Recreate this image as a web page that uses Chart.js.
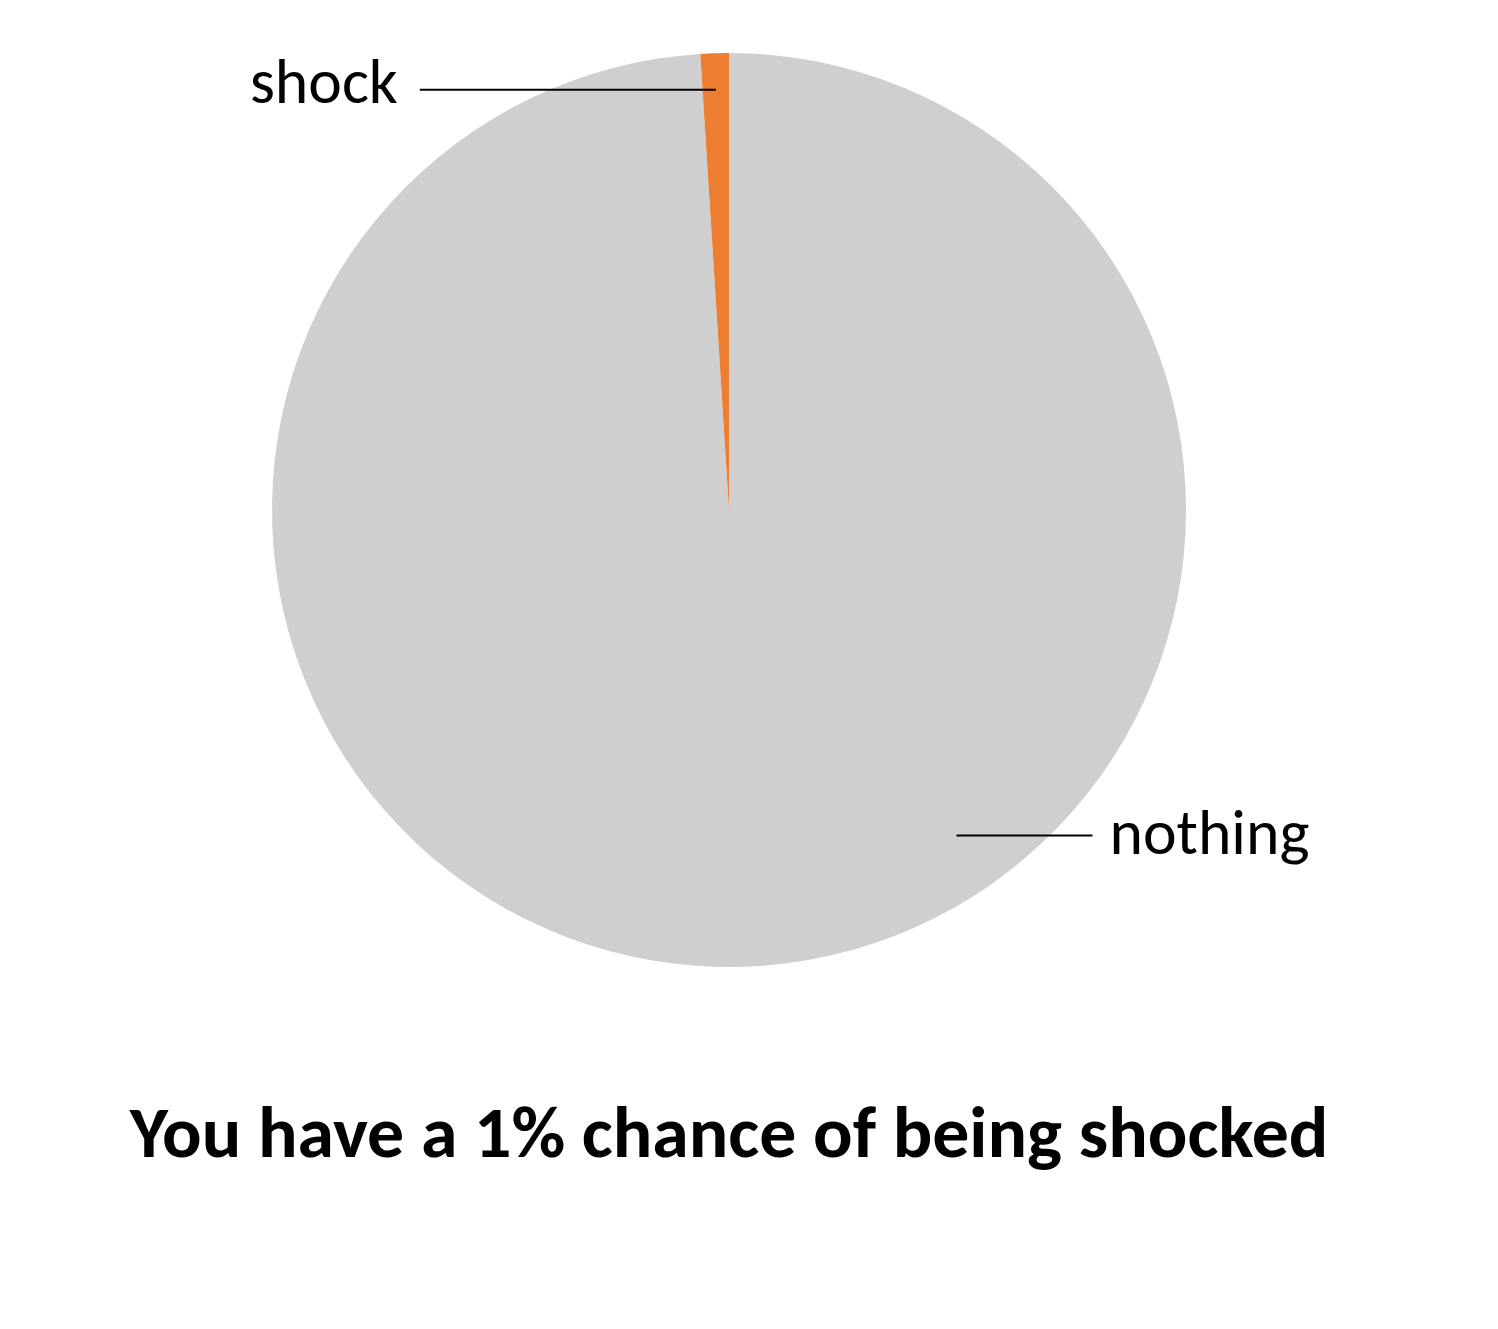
<!DOCTYPE html>
<html><head><meta charset="utf-8">
<script src="https://cdn.jsdelivr.net/npm/chart.js@4"></script>
<style>html,body{margin:0;padding:0;background:#fff}#wrap{width:1498px;height:1329px}</style>
</head><body><div id="wrap"><canvas id="c" width="1498" height="1329"></canvas></div>
<script>
const categories = ['nothing', 'shock'];
const values = [99, 1];
const colors = ['#D0CFD0', '#ED7D31'];
const titleText = 'You have a 1% chance of being shocked';

const FAM = 'Carlito, "Open Sans", Lato, sans-serif';
function fitSize(text, weight, targetW, base) {
  const ctx = document.createElement('canvas').getContext('2d');
  ctx.font = weight + ' ' + base + 'px ' + FAM;
  return base * targetW / ctx.measureText(text).width;
}
const titleSize = fitSize(titleText, 'bold', 1199, 60);
const labelSize = fitSize('nothing', 'normal', 200, 55);

// label placement: radius fraction, angle position within slice (0..1), side
const labelCfg = {
  nothing: {r: 0.869, frac: 0.407, side: 'right', lineLen: 136, gap: 17, dy: 3},
  shock: {r: 0.92, frac: 0.5, side: 'left', lineLen: 296, gap: 22, dy: -3}
};

const leaderPlugin = {
  id: 'leaders',
  afterDatasetsDraw(chart) {
    const ctx = chart.ctx;
    const meta = chart.getDatasetMeta(0);
    ctx.save();
    ctx.font = labelSize + 'px ' + FAM;
    ctx.fillStyle = '#000';
    ctx.strokeStyle = '#000';
    ctx.lineWidth = 2;
    ctx.textBaseline = 'middle';
    meta.data.forEach((arc, i) => {
      const cfg = labelCfg[categories[i]];
      const p = arc.getProps(['x', 'y', 'startAngle', 'endAngle', 'outerRadius'], true);
      const a = p.startAngle + (p.endAngle - p.startAngle) * cfg.frac;
      const px = p.x + Math.cos(a) * p.outerRadius * cfg.r;
      const py = p.y + Math.sin(a) * p.outerRadius * cfg.r;
      const dir = cfg.side === 'right' ? 1 : -1;
      const ex = px + dir * cfg.lineLen;
      ctx.beginPath();
      ctx.moveTo(px, py);
      ctx.lineTo(ex, py);
      ctx.stroke();
      ctx.textAlign = cfg.side === 'right' ? 'left' : 'right';
      ctx.fillText(categories[i], ex + dir * cfg.gap, py + cfg.dy);
    });
    ctx.restore();
  }
};

new Chart(document.getElementById('c'), {
  type: 'pie',
  data: {
    labels: categories,
    datasets: [{ data: values, backgroundColor: colors, borderWidth: 0 }]
  },
  options: {
    responsive: false,
    animation: false,
    layout: { padding: { top: 53, left: 0, right: 40, bottom: 0 } },
    plugins: {
      legend: { display: false },
      tooltip: { enabled: false },
      title: {
        display: true,
        text: titleText,
        position: 'bottom',
        color: '#000',
        font: { family: FAM, size: titleSize, weight: 'bold', lineHeight: 1.2 },
        padding: { top: 362 - 146 - titleSize * 1.2, bottom: 146 }
      }
    }
  },
  plugins: [leaderPlugin]
});
</script>
</body></html>
